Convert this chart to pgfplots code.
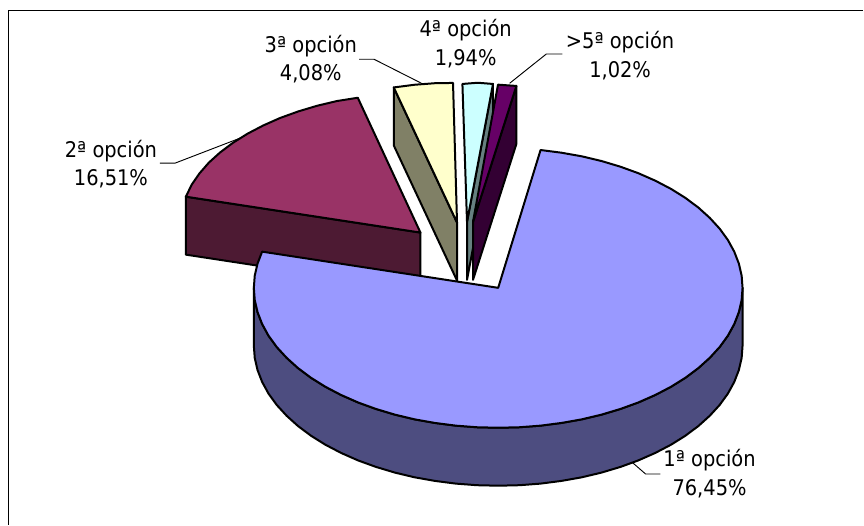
\documentclass[border=0pt]{standalone}
\usepackage{pgfplots}
\pgfplotsset{compat=1.18}
\usepackage{fontspec}
\setmainfont{DejaVu Sans Condensed}

\definecolor{bigtop}{HTML}{9999FF}
\definecolor{bigwall}{HTML}{4D4D80}
\definecolor{martop}{HTML}{993366}
\definecolor{marwall}{HTML}{4D1A33}
\definecolor{crmtop}{HTML}{FFFFCC}
\definecolor{crmwall}{HTML}{808066}
\definecolor{cyntop}{HTML}{CCFFFF}
\definecolor{cynwall}{HTML}{668080}
\definecolor{purtop}{HTML}{660066}
\definecolor{purwall}{HTML}{330033}

% one label, two lines: x, baseline 1, baseline 2, text 1, text 2
\newcommand{\lab}[5]{%
  \node[anchor=base,inner sep=0pt,font=\fontsize{16.2}{18}\selectfont] at (axis cs:#1,#2) {#4};
  \node[anchor=base,inner sep=0pt,font=\fontsize{16.2}{18}\selectfont] at (axis cs:#1,#3) {#5};
}

\begin{document}
\begin{tikzpicture}
\begin{axis}[
    scale only axis,
    width=648pt,
    height=393.75pt,
    xmin=0, xmax=864,
    ymin=0, ymax=525,
    y dir=reverse,
    hide axis,
    clip=false,
    slice/.style={draw=black,line width=1.5pt,line join=round},
    leader/.style={draw=black,line width=0.7pt},
]
% hide axis leaves the box out, so keep the full page size
\path (axis cs:0,0) rectangle (axis cs:864,525);

% frame, left and top only
\addplot[draw=black,line width=0.8pt] coordinates {(8.5,525)(8.5,10.5)(864,10.5)};

% 2a opcion
\addplot[slice,fill=marwall] coordinates {
    (186,196.8)(420.7,232.7)(420.7,290.7)(186,254.8)
} --cycle;
\addplot[slice,fill=martop] coordinates {
    (420.7,232.7)(358,97.8)(337.1,101.1)(317.4,105.8)(298.4,111.5)(280.4,118)(263.5,125.5)(247.8,133.7)(233.4,142.7)(220.4,152.4)(209,162.7)(199.6,173.5)(191.8,184.8)(186,196.8)
} --cycle;

% 3a opcion
\addplot[slice,fill=crmwall] coordinates {
    (394,87.5)(457.3,222.7)(457.3,280.7)(394,145.5)
} --cycle;
\addplot[slice,fill=crmtop] coordinates {
    (457.3,222.7)(394,87.5)(414.8,84.8)(436,83.2)(453.3,83)
} --cycle;

% 4a opcion
\addplot[slice,fill=cynwall] coordinates {
    (493.3,84)(467.3,222)(467.3,280)(493.3,142)
} --cycle;
\addplot[slice,fill=cyntop] coordinates {
    (467.3,222)(462.7,84)(478,82.8)(493.3,84)
} --cycle;

% >5a opcion
\addplot[slice,fill=purwall] coordinates {
    (516.7,86)(473.3,222)(473.3,280)(516.7,144)
} --cycle;
\addplot[slice,fill=purtop] coordinates {
    (473.3,222)(498.3,84.7)(516.7,86)
} --cycle;

% 1a opcion
\addplot[slice,fill=bigwall] coordinates {
    (743,288)(742.1,300.2)(739.3,312.3)(734.7,324.2)(728.3,335.9)(720.1,347.2)(710.2,358)(698.8,368.3)(685.8,378)(671.4,387)(655.7,395.2)(638.7,402.7)(620.8,409.2)(601.8,414.9)(582.1,419.6)(561.8,423.2)(540.9,425.9)(519.8,427.5)(498.5,428)(477.2,427.5)(456.1,425.9)(435.2,423.2)(414.9,419.6)(395.2,414.9)(376.2,409.2)(358.3,402.7)(341.3,395.2)(325.6,387)(311.2,378)(298.2,368.3)(286.8,358)(276.9,347.2)(268.7,335.9)(262.3,324.2)(257.7,312.3)(254.9,300.2)(254,288)
    (254,346)(254.9,358.2)(257.7,370.3)(262.3,382.2)(268.7,393.9)(276.9,405.2)(286.8,416)(298.2,426.3)(311.2,436)(325.6,445)(341.3,453.2)(358.3,460.7)(376.2,467.2)(395.2,472.9)(414.9,477.6)(435.2,481.2)(456.1,483.9)(477.2,485.5)(498.5,486)(519.8,485.5)(540.9,483.9)(561.8,481.2)(582.1,477.6)(601.8,472.9)(620.8,467.2)(638.7,460.7)(655.7,453.2)(671.4,445)(685.8,436)(698.8,426.3)(710.2,416)(720.1,405.2)(728.3,393.9)(734.7,382.2)(739.3,370.3)(742.1,358.2)(743,346)
} --cycle;
\addplot[slice,fill=bigtop] coordinates {
    (498.5,288)(540.9,150.1)(561.8,152.8)(582.1,156.4)(601.8,161.1)(620.8,166.8)(638.7,173.3)(655.7,180.8)(671.4,189)(685.8,198)(698.8,207.7)(710.2,218)(720.1,228.8)(728.3,240.1)(734.7,251.8)(739.3,263.7)(742.1,275.8)(743,288)(742.1,300.2)(739.3,312.3)(734.7,324.2)(728.3,335.9)(720.1,347.2)(710.2,358)(698.8,368.3)(685.8,378)(671.4,387)(655.7,395.2)(638.7,402.7)(620.8,409.2)(601.8,414.9)(582.1,419.6)(561.8,423.2)(540.9,425.9)(519.8,427.5)(498.5,428)(477.2,427.5)(456.1,425.9)(435.2,423.2)(414.9,419.6)(395.2,414.9)(376.2,409.2)(358.3,402.7)(341.3,395.2)(325.6,387)(311.2,378)(298.2,368.3)(286.8,358)(276.9,347.2)(268.7,335.9)(262.3,324.2)(257.7,312.3)(254.9,300.2)(254,288)(254.9,275.8)(257.7,263.7)(262.3,251.8)
} --cycle;

% leader lines
\addplot[leader] coordinates {(633,463)(646,474.3)(660.7,474.3)};
\addplot[leader] coordinates {(160,163.3)(175,163.3)(240,138.3)};
\addplot[leader] coordinates {(359.3,59.3)(374.3,59.3)(421.7,83.3)};
\addplot[leader] coordinates {(510,83.3)(546.7,54)(562.7,54)};

% labels
\lab{710}{467}{496}{1ª opción}{76,45\%}
\lab{111}{157.3}{185.5}{2ª opción}{16,51\%}
\lab{311}{52.7}{81}{3ª opción}{4,08\%}
\lab{466}{36.7}{66}{4ª opción}{1,94\%}
\lab{620.5}{48.3}{77.3}{>5ª opción}{1,02\%}
\end{axis}
\end{tikzpicture}
\end{document}
